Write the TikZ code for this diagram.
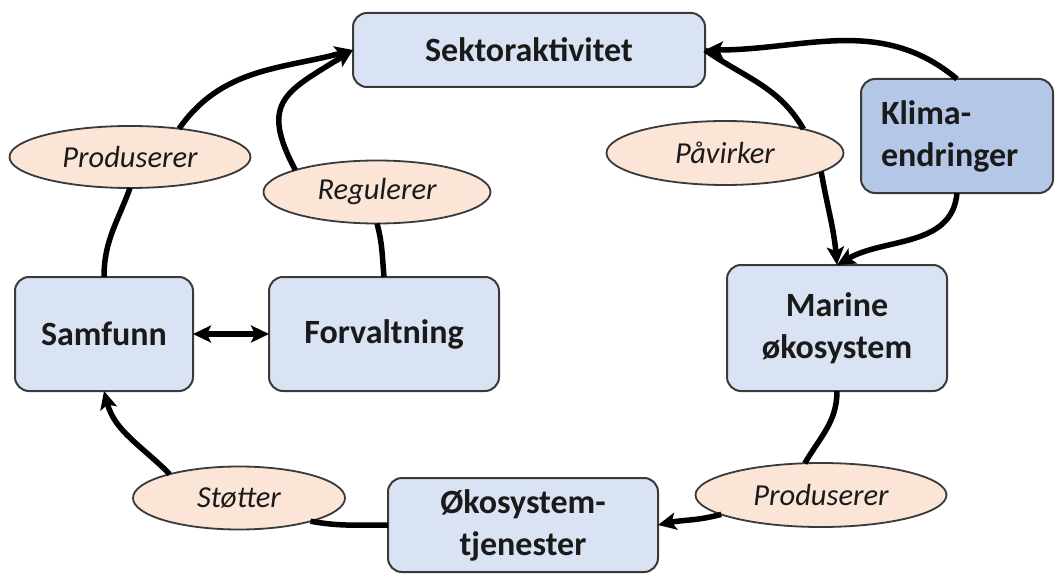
\documentclass[tikz,border=0pt]{standalone}
\usepackage{fontspec}
\setmainfont{Carlito}
\usetikzlibrary{arrows.meta,shapes.geometric}
\definecolor{boxfill}{HTML}{DAE3F3}
\definecolor{klimafill}{HTML}{B4C7E7}
\definecolor{ellfill}{HTML}{FBE5D6}
\definecolor{edgecol}{HTML}{3A3A3A}
\definecolor{txt}{HTML}{1A1A1A}
\begin{document}
\begin{tikzpicture}[x=1pt,y=-1pt,
 box/.style={draw=edgecol, line width=2pt, fill=boxfill, rounded corners=14pt, inner sep=0pt, outer sep=0pt, align=center, text=txt, font=\fontsize{34}{42}\selectfont\bfseries},
 lab/.style={ellipse, draw=edgecol, line width=1.8pt, fill=ellfill, inner sep=0pt, outer sep=0pt, text=txt, font=\fontsize{30.5}{36}\selectfont\itshape},
 conn/.style={line width=5.5pt, black},
 tip/.style={-{Stealth[length=18pt,width=17pt,inset=4pt]}},
 dbl/.style={{Stealth[length=18pt,width=17pt,inset=4pt]}-{Stealth[length=18pt,width=17pt,inset=4pt]}},
]
\useasboundingbox (0,0) rectangle (1055,575);
\fill[white] (0,0) rectangle (1055,575);

\node[box, minimum width=352pt, minimum height=74pt] (sek) at (529,50) {Sektoraktivitet};
\node[box, fill=klimafill, minimum width=192pt, minimum height=114pt, text width=152pt, align=left] (klima) at (957,136) {Klima-\\endringer};
\node[box, minimum width=220pt, minimum height=126pt] (marine) at (837,328) {Marine\\økosystem};
\node[box, minimum width=178pt, minimum height=114pt] (samf) at (104,334) {Samfunn};
\node[box, minimum width=230pt, minimum height=114pt] (forv) at (384,334) {Forvaltning};
\node[box, minimum width=270pt, minimum height=94pt] (oko) at (523,525) {Økosystem-\\tjenester};

\node[lab, minimum width=241pt, minimum height=62pt] (prodL) at (130,157) {Produserer};
\node[lab, minimum width=227pt, minimum height=63pt] (reg) at (377,192) {Regulerer};
\node[lab, minimum width=237pt, minimum height=64pt] (paf) at (725,153) {Påvirker};
\node[lab, minimum width=251pt, minimum height=64pt] (prodR) at (821,495) {Produserer};
\node[lab, minimum width=212pt, minimum height=63pt] (sto) at (239,498) {Støtter};

\draw[conn] (samf.north) to[out=90,in=-110] (prodL.south);
\draw[conn,tip] (prodL.30) to[out=55,in=195] (sek.west);
\draw[conn] (forv.north) to[out=95,in=-75] (reg.south);
\draw[conn,tip] (reg.165) to[out=118,in=212,looseness=1.5] (sek.west);
\draw[conn,tip] (klima.north) to[out=140,in=0] (sek.east);
\draw[conn] (sek.east) to[out=-35,in=120] (paf.17);
\draw[conn,tip] (paf.349) to[out=-80,in=95] (marine.north);
\draw[conn,tip] (klima.south) to[out=-95,in=30] (marine.north);
\draw[conn] (marine.south) to[out=-90,in=60] (prodR.117);
\draw[conn,tip] (prodR.191) to[out=195,in=12] (oko.east);
\draw[conn] (oko.west) to[out=180,in=-10] (sto.342);
\draw[conn,tip] (sto.161) to[out=135,in=-75] (samf.south);
\draw[conn,dbl] (samf.east) -- (forv.west);
\end{tikzpicture}
\end{document}
